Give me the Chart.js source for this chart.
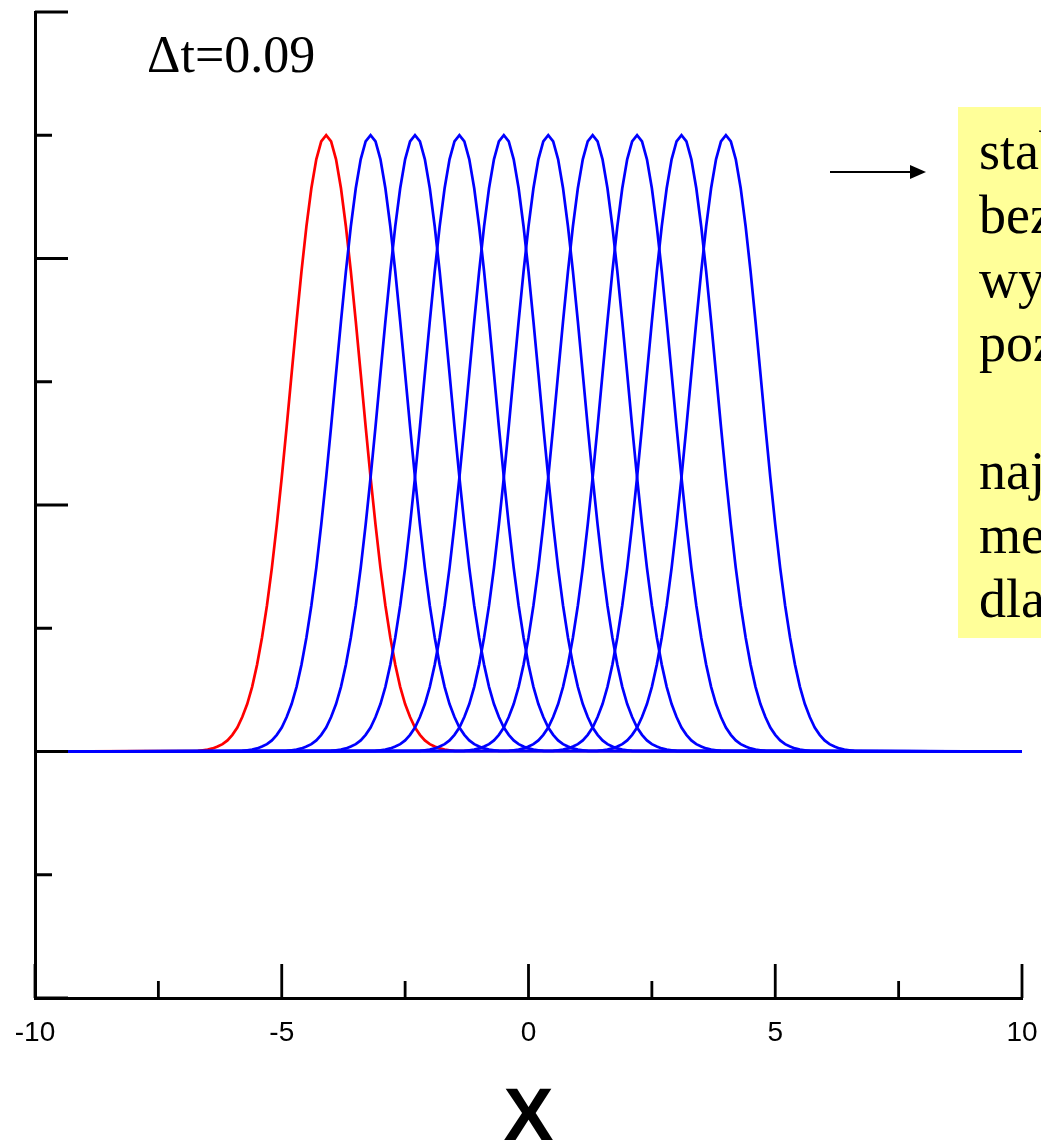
<!DOCTYPE html>
<html lang="pl">
<head>
<meta charset="UTF-8">
<title>Adwekcja - dt=0.09</title>
<script src="https://cdn.jsdelivr.net/npm/chart.js"></script>
<style>
  body { margin: 0; background: #fff; }
  #wrap { width: 1041px; height: 1143px; }
</style>
</head>
<body>
<div id="wrap">
  <canvas id="wykres" width="1041" height="1143"></canvas>
</div>
<script>
// polozenia maksimow kolejnych profili
const peakStart = [-4.1];
const peaksNext = [-3.2, -2.3, -1.4, -0.5, 0.4, 1.3, 2.2, 3.1, 4.0];

// ksztalt jednego profilu: przesuniecie od maksimum i wysokosc
const profileOffset = [-2.6, -2.5, -2.4, -2.3, -2.2, -2.1, -2.0, -1.9, -1.8, -1.7, -1.6, -1.5, -1.4,
  -1.3, -1.2, -1.1, -1.0, -0.9, -0.8, -0.7, -0.6, -0.5, -0.4, -0.3, -0.2, -0.1, 0,
  0.1, 0.2, 0.3, 0.4, 0.5, 0.6, 0.7, 0.8, 0.9, 1.0, 1.1, 1.2, 1.3,
  1.4, 1.5, 1.6, 1.7, 1.8, 1.9, 2.0, 2.1, 2.2, 2.3, 2.4, 2.5, 2.6];
const profileHeight = [0.001, 0.002, 0.003, 0.005, 0.008, 0.012, 0.018, 0.027, 0.039, 0.056, 0.077, 0.105, 0.141,
  0.185, 0.237, 0.298, 0.368, 0.445, 0.527, 0.613, 0.698, 0.779, 0.852, 0.914, 0.961, 0.990, 1.0,
  0.990, 0.961, 0.914, 0.852, 0.779, 0.698, 0.613, 0.527, 0.445, 0.368, 0.298, 0.237, 0.185,
  0.141, 0.105, 0.077, 0.056, 0.039, 0.027, 0.018, 0.012, 0.008, 0.005, 0.003, 0.002, 0.001];

// osie
const xRange = [-10, 10];
const yRange = [-0.4, 1.2];
const xMajorTicks = [-10, -5, 0, 5, 10];
const xMinorTicks = [-7.5, -2.5, 2.5, 7.5];
const yMajorTicks = [-0.4, 0, 0.4, 0.8, 1.2];
const yMinorTicks = [-0.2, 0.2, 0.6, 1.0];

// napisy
const dtLabel = '\u0394t=0.09';
const noteLines = ['stab', 'bez', 'wy', 'poz', '', 'naj', 'me', 'dla'];

function curve(peak) {
  const pts = [{ x: xRange[0], y: 0 }];
  for (let i = 0; i < profileOffset.length; i++) {
    pts.push({ x: peak + profileOffset[i], y: profileHeight[i] });
  }
  pts.push({ x: xRange[1], y: 0 });
  return pts;
}

const datasets = [];
peakStart.forEach(function (p) {
  datasets.push({ data: curve(p), borderColor: '#ff0000', borderWidth: 2.7, order: 1 });
});
peaksNext.forEach(function (p) {
  datasets.push({ data: curve(p), borderColor: '#0000ff', borderWidth: 2.7, order: 0 });
});

// kreski podzialki do wewnatrz + opisy
const extras = {
  id: 'extras',
  afterDraw(chart) {
    const ctx = chart.ctx;
    const area = chart.chartArea;
    const xs = chart.scales.x;
    const ys = chart.scales.y;
    ctx.save();
    ctx.strokeStyle = '#000';
    ctx.lineWidth = 2.8;
    ctx.beginPath();
    xMajorTicks.forEach(function (v) {
      const px = xs.getPixelForValue(v);
      ctx.moveTo(px, area.bottom); ctx.lineTo(px, area.bottom - 34);
    });
    xMinorTicks.forEach(function (v) {
      const px = xs.getPixelForValue(v);
      ctx.moveTo(px, area.bottom); ctx.lineTo(px, area.bottom - 17);
    });
    yMajorTicks.forEach(function (v) {
      const py = ys.getPixelForValue(v);
      ctx.moveTo(area.left, py); ctx.lineTo(area.left + 33, py);
    });
    yMinorTicks.forEach(function (v) {
      const py = ys.getPixelForValue(v);
      ctx.moveTo(area.left, py); ctx.lineTo(area.left + 17, py);
    });
    ctx.stroke();

    // dt
    ctx.fillStyle = '#000';
    ctx.font = '52px "Liberation Serif", "Times New Roman", serif';
    ctx.textBaseline = 'alphabetic';
    ctx.textAlign = 'left';
    ctx.fillText(dtLabel, 147, 72);

    // strzalka
    ctx.lineWidth = 2;
    ctx.beginPath();
    ctx.moveTo(830, 172); ctx.lineTo(912, 172);
    ctx.stroke();
    ctx.beginPath();
    ctx.moveTo(926, 172); ctx.lineTo(910, 165); ctx.lineTo(910, 179);
    ctx.closePath();
    ctx.fill();

    // zolta ramka
    ctx.fillStyle = '#ffff99';
    ctx.fillRect(958, 107, 90, 531);
    ctx.fillStyle = '#000';
    ctx.font = '54px "Liberation Serif", "Times New Roman", serif';
    noteLines.forEach(function (t, i) {
      if (t) ctx.fillText(t, 979, 169 + i * 64);
    });
    ctx.restore();
  }
};

new Chart(document.getElementById('wykres'), {
  type: 'line',
  data: { datasets: datasets },
  options: {
    responsive: false,
    animation: false,
    events: [],
    layout: { padding: { top: 12, right: 19, bottom: 0, left: 0 } },
    elements: { point: { radius: 0 }, line: { tension: 0 } },
    plugins: { legend: { display: false }, tooltip: { enabled: false } },
    scales: {
      x: {
        type: 'linear',
        min: xRange[0],
        max: xRange[1],
        grid: { display: true, drawOnChartArea: false, drawTicks: false },
        border: { display: true, color: '#000', width: 3 },
        ticks: {
          stepSize: 5,
          padding: 18,
          color: '#000',
          maxRotation: 0,
          font: { family: '"Liberation Sans", Arial, sans-serif', size: 28 }
        },
        title: {
          display: true,
          text: 'X',
          color: '#000',
          padding: 0,
          font: { family: '"Liberation Sans", Arial, sans-serif', size: 75, weight: 'bold', lineHeight: 0.62 }
        },
        afterFit(scale) {
          scale.height = 145;
          scale.paddingLeft = 0;
          scale.paddingRight = 0;
        }
      },
      y: {
        type: 'linear',
        min: yRange[0],
        max: yRange[1],
        grid: { display: true, drawOnChartArea: false, drawTicks: false },
        border: { display: true, color: '#000', width: 3 },
        ticks: { display: false },
        afterFit(scale) {
          scale.width = 35;
          scale.paddingTop = 0;
          scale.paddingBottom = 0;
        }
      }
    }
  },
  plugins: [extras]
});
</script>
</body>
</html>
